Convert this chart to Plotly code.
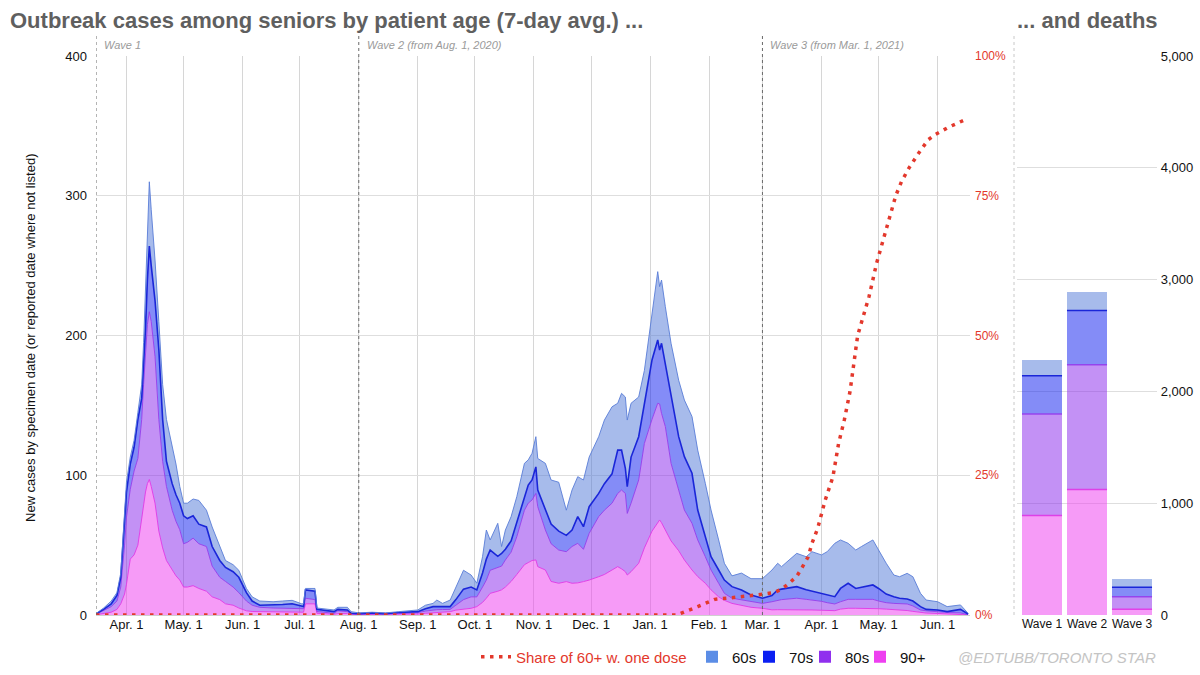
import plotly.graph_objects as go
import numpy as np

# ---------------- data ----------------
dates = [
    "2020-03-16", "2020-03-20", "2020-03-24", "2020-03-27", "2020-03-29", "2020-03-31", "2020-04-01",
    "2020-04-03", "2020-04-05", "2020-04-07", "2020-04-09", "2020-04-10", "2020-04-11", "2020-04-12",
    "2020-04-13", "2020-04-14", "2020-04-16", "2020-04-18", "2020-04-20", "2020-04-22", "2020-04-25",
    "2020-04-27", "2020-04-29", "2020-05-01", "2020-05-03", "2020-05-06", "2020-05-09", "2020-05-13",
    "2020-05-16", "2020-05-20", "2020-05-23", "2020-05-27", "2020-05-30", "2020-06-03", "2020-06-06",
    "2020-06-10", "2020-06-17", "2020-06-22", "2020-06-27", "2020-07-02", "2020-07-03", "2020-07-04",
    "2020-07-09", "2020-07-10", "2020-07-19", "2020-07-21", "2020-07-26", "2020-07-28",
    "2020-08-01", "2020-08-08", "2020-08-15", "2020-08-22", "2020-09-01", "2020-09-05", "2020-09-09",
    "2020-09-11", "2020-09-14", "2020-09-18", "2020-09-21", "2020-09-25", "2020-09-29", "2020-10-02",
    "2020-10-05", "2020-10-07", "2020-10-09", "2020-10-13", "2020-10-15", "2020-10-17", "2020-10-20",
    "2020-10-23", "2020-10-27", "2020-10-29", "2020-10-31", "2020-11-02", "2020-11-03", "2020-11-07",
    "2020-11-10", "2020-11-14", "2020-11-18", "2020-11-21", "2020-11-24", "2020-11-27", "2020-11-30",
    "2020-12-05", "2020-12-08", "2020-12-12", "2020-12-15", "2020-12-17", "2020-12-19", "2020-12-20",
    "2020-12-22", "2020-12-26", "2020-12-29", "2021-01-02", "2021-01-05", "2021-01-06", "2021-01-07",
    "2021-01-09", "2021-01-12", "2021-01-16", "2021-01-19", "2021-01-23", "2021-01-26", "2021-01-30",
    "2021-02-02", "2021-02-06", "2021-02-09", "2021-02-13", "2021-02-18", "2021-02-23",
    "2021-03-01", "2021-03-06", "2021-03-09", "2021-03-11", "2021-03-15", "2021-03-19", "2021-03-24",
    "2021-03-27", "2021-04-01", "2021-04-04", "2021-04-08", "2021-04-11", "2021-04-15", "2021-04-19",
    "2021-04-22", "2021-04-28", "2021-05-01", "2021-05-05", "2021-05-09", "2021-05-12", "2021-05-16",
    "2021-05-19", "2021-05-23", "2021-05-26", "2021-06-01", "2021-06-06", "2021-06-13", "2021-06-17",
]

cases_90 = [
    0.2, 1, 2, 4, 8, 15, 22, 40, 43, 50, 70, 80, 88, 94, 97, 92, 80, 60, 48, 39, 32, 28, 25, 20, 20, 21,
    19, 17, 13, 11, 8, 7, 5, 3, 2.5, 2.4, 2.4, 2.4, 2.4, 2.2, 2, 8, 8, 1.2, 0.5, 1, 1, 0.3,
    0.3, 0.3, 0.3, 0.4, 0.7, 1.2, 1.6, 1.8, 2, 2.4, 3.5, 4.3, 4.8, 6, 9, 12, 15.5, 17, 18, 20, 24, 29,
    36, 37.5, 39, 39.4, 34.6, 32.2, 24, 22.7, 23.9, 22.7, 23, 23.9, 25, 27.4, 29, 32.2, 34.6, 33, 31,
    28.6, 31, 37, 48, 60, 66, 68, 66, 60.8, 53, 46, 39.4, 32.2, 27.5, 22.7, 18, 13, 10.5, 8.3, 7, 5.5,
    4.8, 3.7, 3.8, 3.8, 3.9, 4, 3.8, 3.6, 3.4, 3.2, 3.1, 4.2, 4.8, 4.8, 4.8, 4.8, 4.5, 4.2, 4, 3.7, 3.2,
    2.6, 1.7, 1.4, 1.1, 0.9, 0.7, 0.1,
]
cases_80 = [
    0.3, 2, 4, 6, 12, 35, 48, 50, 60, 62, 70, 85, 100, 114, 120, 118, 105, 80, 62, 53, 43, 39, 36, 31,
    32, 34, 32, 32, 22, 16, 16, 13, 11, 7, 4.5, 3.1, 2.6, 2.6, 2.6, 2.3, 2.5, 4, 3, 1.3, 0.7, 2, 1.4, 0.5,
    0.3, 0.5, 0.3, 0.6, 1.0, 1.6, 2.0, 2.0, 1.9, 1.6, 3.5, 6.7, 8.2, 7, 11, 13, 16.5, 17, 17, 19.4, 21,
    27, 39, 42.5, 43.3, 47.6, 42.9, 28.6, 27, 23.8, 21.4, 26.3, 28.3, 23.1, 33.4, 43, 46, 47.8, 52.4,
    56.4, 56, 44.1, 49, 59.6, 74.8, 80, 85.5, 83, 78.3, 74, 55.5, 43.4, 35.7, 33.4, 26.2, 19, 14.2, 9.7,
    5, 3.7, 3.7, 4,
    3.5, 5.8, 6.9, 7.2, 7.6, 8, 7.4, 7.1, 6.4, 5.6, 4.8, 5.3, 6.4, 6.4, 6.4, 6.4, 5.5, 4.6, 4.3, 4.4,
    4.7, 3.9, 1.9, 1.6, 1.1, 0.9, 0.8, 0.1,
]
cases_70 = [
    0.3, 1, 2, 4, 7, 14, 18, 18, 17, 28, 15, 15, 17, 32, 47, 40, 40, 50, 30, 18, 19, 19, 19, 20, 17, 16,
    14, 14, 14, 12, 10, 11, 11, 6, 3, 1.5, 2, 2.5, 3, 1.5, 1.5, 6, 6, 1.5, 1.2, 1, 1.2, 0.4,
    0.4, 0.7, 0.4, 0.8, 0.7, 1.7, 2.4, 2.2, 2.1, 2, 4, 7.5, 7, 4.9, 10, 15, 14.5, 8, 9, 7.6, 8, 10, 10,
    13, 14.3, 19, 11.9, 14.2, 14, 13.5, 11.7, 11.8, 19.1, 16.2, 19.1, 16.6, 19, 21, 31, 28.6, 18, 19.1,
    33, 31, 28.7, 42.5, 45.3, 38.6, 50.1, 45.2, 47.5, 38.2, 38.2, 35.8, 21.4, 14.3, 9.5, 9.5, 9.5, 8.3,
    7.2, 4.8,
    3.7, 4.5, 7.2, 7.5, 8, 8.3, 6.8, 6.3, 6, 5.7, 5.2, 9.5, 11.5, 7.8, 8.8, 10.3, 9, 6.2, 4.7, 3.9, 3.6,
    3.5, 2.4, 1, 1.4, 0.6, 2.5, 0.5,
]
cases_60 = [
    0.2, 1, 2, 2, 3, 6, 7, 5, 5, 5, 10, 15, 30, 45, 46, 40, 29, 20, 25, 30, 26, 22, 12, 9, 11, 12, 17,
    12, 14, 10, 5, 5, 5, 3, 3, 3, 2.5, 2.5, 2.5, 2, 2, 1, 2, 1, 1.2, 1.5, 1.9, 1.2,
    0.5, 0.5, 0.5, 0.6, 1.2, 2.5, 2.3, 4.7, 2.3, 4.7, 9, 13.5, 8.6, 4.8, 11.7, 20.8, 7.2, 23.6, 5, 13.8,
    17.4, 18.7, 23.5, 18, 19.1, 21.6, 22.6, 33.5, 31.6, 35, 18, 28.6, 28.6, 33.4, 35.5, 40.6, 45.5, 48,
    33.5, 40.6, 51, 47.7, 38.5, 28.4, 23.5, 31, 48.9, 45.4, 45.3, 40.6, 38.4, 40.4, 40.5, 40.6, 42.9,
    38.2, 33.4, 21.5, 12, 7.7, 12.1, 11.7,
    14, 18.2, 19.1, 16.1, 19.9, 23.8, 23.7, 28.3, 27.2, 30.8, 38.2, 34.7, 28.6, 27.5, 29, 32.2, 27.5,
    22, 15.6, 15.4, 18.3, 17.4, 9.5, 6.7, 5.9, 3.6, 3.2, 0.5,
]

vax_dates = [
    "2020-03-16", "2021-01-15", "2021-01-26", "2021-02-04", "2021-02-13", "2021-02-19", "2021-03-01",
    "2021-03-07", "2021-03-11", "2021-03-14", "2021-03-19", "2021-03-22", "2021-03-25", "2021-03-27",
    "2021-03-30", "2021-04-03", "2021-04-07", "2021-04-10", "2021-04-13", "2021-04-16", "2021-04-20",
    "2021-04-26", "2021-04-30", "2021-05-05", "2021-05-10", "2021-05-13", "2021-05-17", "2021-05-22",
    "2021-05-27", "2021-05-31", "2021-06-07", "2021-06-16",
]
vax_share = [
    0, 0, 1.5, 2.8, 3.1, 3.3, 3.7, 4.0, 4.6, 5.4, 6.9, 8.6, 10.4, 12.8, 15.5, 20.6, 24.7, 30.7, 34.9,
    40, 50, 57, 63, 69, 75, 77.5, 80, 82.6, 85, 86, 87.3, 88.7,
]

waves = ["Wave 1", "Wave 2", "Wave 3"]
deaths_90 = [890, 1122, 51]
deaths_80 = [908, 1116, 113]
deaths_70 = [342, 486, 84]
deaths_60 = [138, 165, 72]

month_ticks = ["2020-04-01", "2020-05-01", "2020-06-01", "2020-07-01", "2020-08-01", "2020-09-01",
               "2020-10-01", "2020-11-01", "2020-12-01", "2021-01-01", "2021-02-01", "2021-03-01",
               "2021-04-01", "2021-05-01", "2021-06-01"]
month_labels = ["Apr. 1", "May. 1", "Jun. 1", "Jul. 1", "Aug. 1", "Sep. 1", "Oct. 1", "Nov. 1",
                "Dec. 1", "Jan. 1", "Feb. 1", "Mar. 1", "Apr. 1", "May. 1", "Jun. 1"]

pct_ticks = [0, 25, 50, 75, 100]
pct_labels = ["0%", "25%", "50%", "75%", "100%"]

wave_starts = ["2020-03-16", "2020-08-01", "2021-03-01"]
wave_notes = ["Wave 1", "Wave 2 (from Aug. 1, 2020)", "Wave 3 (from Mar. 1, 2021)"]

# ---------------- style ----------------
FONT = "Liberation Sans, Arial, sans-serif"
RED = "#e3382c"
W, H = 1200, 675

def px_x(p):
    return p / W

def px_y(p):
    return (H - p) / H

groups = [  # bottom -> top
    dict(name="90+", cases=cases_90, deaths=deaths_90, fill="rgba(238,63,240,0.52)",
         line="rgba(225,55,230,0.9)", lw=1, solid="#ee3ff0", leg="legend5"),
    dict(name="80s", cases=cases_80, deaths=deaths_80, fill="rgba(140,45,235,0.52)",
         line="rgba(150,60,235,0.9)", lw=1, solid="#9030ee", leg="legend4"),
    dict(name="70s", cases=cases_70, deaths=deaths_70, fill="rgba(20,35,240,0.52)",
         line="#1a26d8", lw=1.6, solid="#0b1ff2", leg="legend3"),
    dict(name="60s", cases=cases_60, deaths=deaths_60, fill="rgba(80,120,215,0.5)",
         line="rgba(90,125,215,0.9)", lw=1, solid="#5b8de6", leg="legend2"),
]

fig = go.Figure()

# stacked areas
for g in groups:
    fig.add_trace(go.Scatter(
        x=dates, y=g["cases"], stackgroup="cases", mode="lines",
        line=dict(color=g["line"], width=g["lw"]), fillcolor=g["fill"],
        showlegend=False, hoverinfo="skip", xaxis="x", yaxis="y"))

# vaccination share
fig.add_trace(go.Scatter(
    x=vax_dates, y=vax_share, yaxis="y2", xaxis="x", mode="lines",
    line=dict(color=RED, width=3.5, dash="3.5px,5.5px"),
    name="Share of 60+ w. one dose", legend="legend", showlegend=True, hoverinfo="skip"))

# death bars
bar_x = np.arange(len(waves))
bar_w = 0.89
cum = np.zeros(len(waves))
for g in groups:
    fig.add_trace(go.Bar(
        x=bar_x, y=g["deaths"], xaxis="x3", yaxis="y3", width=bar_w,
        marker=dict(color=g["fill"], line=dict(width=0)), showlegend=False, hoverinfo="skip"))
    cum = cum + np.array(g["deaths"], dtype=float)
    if g["name"] != "60s":
        sx, sy = [], []
        for i in range(len(waves)):
            sx += [bar_x[i] - bar_w / 2, bar_x[i] + bar_w / 2, None]
            sy += [cum[i], cum[i], None]
        fig.add_trace(go.Scatter(
            x=sx, y=sy, xaxis="x3", yaxis="y3", mode="lines",
            line=dict(color=g["line"], width=1.5), showlegend=False, hoverinfo="skip"))

# legend proxies (solid colour squares)
for g in reversed(groups):
    fig.add_trace(go.Scatter(
        x=[None], y=[None], mode="markers", xaxis="x", yaxis="y",
        marker=dict(symbol="square", size=12, color=g["solid"]),
        name=g["name"], legend=g["leg"], showlegend=True))

# ---------------- layout ----------------
main_dom_x = [px_x(96), px_x(970)]
dom_y = [px_y(615), px_y(56)]
bar_dom_x = [px_x(1017.25), px_x(1156.75)]

shapes = []
for d in wave_starts:
    shapes.append(dict(type="line", xref="x", yref="paper", x0=d, x1=d,
                       y0=px_y(615), y1=px_y(35), line=dict(color="#6a6a6a", width=1, dash="dot"),
                       layer="above"))
shapes.append(dict(type="line", xref="paper", yref="paper", x0=px_x(1014), x1=px_x(1014),
                   y0=px_y(615), y1=px_y(35), line=dict(color="#c8c8c8", width=1, dash="dot")))

annotations = [
    dict(text="<b>Outbreak cases among seniors by patient age (7-day avg.) ...</b>",
         xref="paper", yref="paper", x=px_x(8), y=px_y(20), xanchor="left", yanchor="middle",
         showarrow=False, font=dict(family=FONT, size=22, color="#5f5f5f")),
    dict(text="<b>... and deaths</b>",
         xref="paper", yref="paper", x=px_x(1015), y=px_y(20), xanchor="left", yanchor="middle",
         showarrow=False, font=dict(family=FONT, size=22, color="#5f5f5f")),
    dict(text="New cases by specimen date (or reported date where not listed)",
         xref="paper", yref="paper", x=px_x(30), y=px_y(338), textangle=-90,
         xanchor="center", yanchor="middle", showarrow=False,
         font=dict(family=FONT, size=13, color="#111")),
    dict(text="<i>@EDTUBB/TORONTO STAR</i>",
         xref="paper", yref="paper", x=px_x(1158), y=px_y(657), xanchor="right", yanchor="middle",
         showarrow=False, font=dict(family=FONT, size=15, color="#c4c4c4")),
]
for d, t in zip(wave_starts, wave_notes):
    annotations.append(dict(text="<i>" + t + "</i>", xref="x", yref="paper", x=d, y=px_y(45),
                            xanchor="left", yanchor="middle", xshift=6, showarrow=False,
                            font=dict(family=FONT, size=11, color="#9a9a9a")))

def leg(xpix, color="#111"):
    return dict(orientation="h", xref="container", yref="container",
                x=px_x(xpix), y=px_y(657), xanchor="left", yanchor="middle",
                bgcolor="rgba(0,0,0,0)", borderwidth=0, font=dict(family=FONT, size=15, color=color),
                itemwidth=30)

fig.update_layout(
    width=W, height=H,
    margin=dict(l=0, r=0, t=0, b=0, autoexpand=False),
    paper_bgcolor="white", plot_bgcolor="white",
    font=dict(family=FONT, size=13, color="#111"),
    barmode="stack",
    showlegend=True,
    legend=leg(476, RED),
    legend2=leg(692),
    legend3=leg(749),
    legend4=leg(805),
    legend5=leg(860),
    xaxis=dict(domain=main_dom_x, type="date", range=["2020-03-16", "2021-06-18"],
               tickvals=month_ticks, ticktext=month_labels, showgrid=True, gridcolor="#d6d6d6",
               gridwidth=1, zeroline=False, showline=False, ticks="",
               tickfont=dict(family=FONT, size=13, color="#111"), anchor="y"),
    yaxis=dict(domain=dom_y, range=[0, 400], tickvals=[0, 100, 200, 300, 400], showgrid=True,
               gridcolor="#dedede", zeroline=True, zerolinecolor="#cfcfcf", zerolinewidth=1,
               showline=False, ticks="", ticklabelstandoff=8,
               tickfont=dict(family=FONT, size=13, color="#111"), anchor="x"),
    yaxis2=dict(overlaying="y", side="right", anchor="x", range=[0, 100],
                tickmode="array", tickvals=pct_ticks, ticktext=pct_labels,
                showgrid=False, zeroline=False, showline=False, ticks="", ticklabelstandoff=4,
                tickfont=dict(family=FONT, size=12, color=RED)),
    xaxis3=dict(domain=bar_dom_x, range=[-0.55, 2.55], tickvals=list(bar_x), ticktext=waves,
                showgrid=False, zeroline=False, showline=False, ticks="", anchor="y3",
                tickfont=dict(family=FONT, size=12, color="#111")),
    yaxis3=dict(domain=dom_y, range=[0, 5000], tickvals=[0, 1000, 2000, 3000, 4000, 5000],
                tickformat=",", side="right", anchor="x3", showgrid=True, gridcolor="#dedede",
                zeroline=False, showline=False, ticks="", ticklabelstandoff=3,
                tickfont=dict(family=FONT, size=13, color="#111")),
    shapes=shapes,
    annotations=annotations,
)

fig.write_html("out.html")
